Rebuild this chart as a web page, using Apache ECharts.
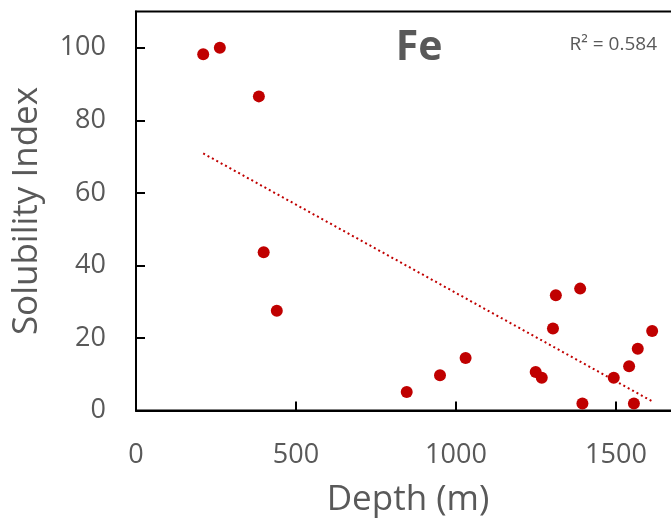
<!DOCTYPE html>
<html>
<head>
<meta charset="utf-8">
<script src="https://cdn.jsdelivr.net/npm/echarts@6/dist/echarts.min.js"></script>
<style>
html,body{margin:0;padding:0;background:#fff;}
#chart{width:671px;height:523px;}
</style>
</head>
<body>
<div id="chart"></div>
<script>
// Data
var depth = [210, 262, 384, 399, 440, 846, 950, 1030, 1249, 1268, 1303, 1312, 1388, 1395, 1493, 1541, 1556, 1568, 1613];
var solubility = [98.2, 100, 86.6, 43.6, 27.5, 5.1, 9.7, 14.5, 10.6, 9.0, 22.6, 31.8, 33.6, 1.9, 9.0, 12.2, 1.9, 17.0, 21.9];
var xTicks = [0, 500, 1000, 1500];
var yTicks = [0, 20, 40, 60, 80, 100];
var titleText = 'Fe';
var r2Text = 'R\u00B2 = 0.584';
var xName = 'Depth (m)';
var yName = 'Solubility Index';

// linear least-squares trendline
var n = depth.length, sx = 0, sy = 0, sxx = 0, sxy = 0;
for (var i = 0; i < n; i++) { sx += depth[i]; sy += solubility[i]; sxx += depth[i]*depth[i]; sxy += depth[i]*solubility[i]; }
var slope = (n*sxy - sx*sy) / (n*sxx - sx*sx);
var icpt = (sy - slope*sx) / n;
var xmin = Math.min.apply(null, depth), xmax = Math.max.apply(null, depth);
var trend = [[xmin, icpt + slope*xmin], [xmax, icpt + slope*xmax]];

var pts = depth.map(function (d, i) { return [d, solubility[i]]; });
var red = '#C00000';
var grey = '#595959';
var font = '"Open Sans", "Noto Sans", sans-serif';

var chart = echarts.init(document.getElementById('chart'), null, {renderer: 'canvas'});
chart.setOption({
  animation: false,
  backgroundColor: '#fff',
  grid: {left: 136, top: 11.5, right: -9, bottom: 112.5, containLabel: false, outerBoundsMode: 'none',
         show: true, borderColor: '#000', borderWidth: 2, backgroundColor: 'transparent'},
  xAxis: {
    type: 'value', min: 0, max: 1700, interval: 500,
    name: xName, nameLocation: 'middle', nameGap: 72, nameMoveOverlap: false,
    nameTextStyle: {fontFamily: font, fontSize: 35, color: grey},
    axisLine: {show: true, lineStyle: {color: '#000', width: 2}},
    axisTick: {show: true, inside: true, length: 9, lineStyle: {color: '#000', width: 2}},
    axisLabel: {show: true, margin: 31, fontFamily: font, fontSize: 27, color: grey, showMaxLabel: false,
      formatter: function (v) { return xTicks.indexOf(v) >= 0 ? String(v) : ''; }},
    splitLine: {show: false}
  },
  yAxis: {
    type: 'value', min: 0, max: 110, interval: 20,
    name: yName, nameLocation: 'middle', nameGap: 91, nameRotate: 90, nameMoveOverlap: false,
    nameTextStyle: {fontFamily: font, fontSize: 35, color: grey},
    axisLine: {show: true, lineStyle: {color: '#000', width: 2}},
    axisTick: {show: true, inside: true, length: 9, lineStyle: {color: '#000', width: 2}},
    axisLabel: {show: true, margin: 30, fontFamily: font, fontSize: 27, color: grey, showMaxLabel: false,
      formatter: function (v) { return yTicks.indexOf(v) >= 0 ? String(v) : ''; }},
    splitLine: {show: false}
  },
  graphic: [
    {type: 'text', x: 419, y: 48, style: {text: titleText, font: 'bold 41px ' + font, fill: grey, textAlign: 'center', textVerticalAlign: 'middle'}},
    {type: 'text', x: 657, y: 45, style: {text: r2Text, font: '19px ' + font, fill: grey, textAlign: 'right', textVerticalAlign: 'middle'}}
  ],
  series: [
    {type: 'line', data: trend, symbol: 'none', silent: true,
     lineStyle: {color: red, width: 2, type: [2, 3]}, z: 1},
    {type: 'scatter', data: pts, symbol: 'circle', symbolSize: 12,
     itemStyle: {color: red, opacity: 1}, z: 2}
  ]
});
</script>
</body>
</html>
